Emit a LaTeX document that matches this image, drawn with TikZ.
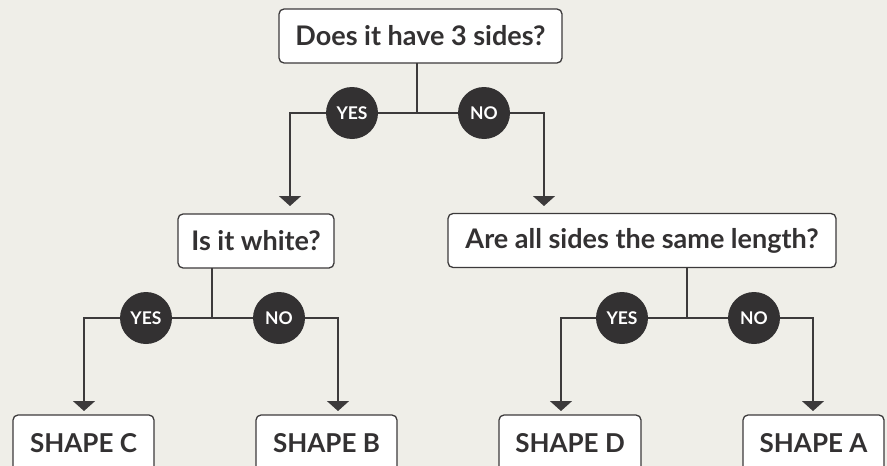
\documentclass[tikz,border=0pt]{standalone}
\usepackage{fontspec}
\setmainfont{Lato}
\usetikzlibrary{arrows.meta}
\definecolor{bg}{HTML}{EFEEE8}
\definecolor{ink}{HTML}{333132}
\definecolor{edge}{HTML}{3C3A3B}
\tikzset{
  qbox/.style={draw=edge, line width=1.3pt, fill=white, rounded corners=5pt,
    minimum height=54pt, inner sep=0pt, font=\fontsize{27}{30}\selectfont\bfseries, text=ink},
  leaf/.style={qbox, minimum height=56pt, font=\fontsize{26}{30}\selectfont\bfseries},
  ans/.style={circle, fill=ink, minimum size=52pt, inner sep=0pt,
    font=\fontsize{17.5}{20}\selectfont\bfseries, text=white},
  wire/.style={draw=edge, line width=1.5pt},
  arr/.style={wire, -{Triangle[width=22pt,length=10pt]}},
}
\begin{document}
\begin{tikzpicture}[x=1pt,y=-1pt]
\useasboundingbox (0,0) rectangle (887,466);
\fill[bg] (0,0) rectangle (887,466);
\clip (0,0) rectangle (887,466);
% question boxes
\node[qbox, minimum width=283pt] (q1) at (420.5,36) {Does it have 3 sides?};
\node[qbox, minimum width=156pt] (q2) at (256,241) {Is it white?};
\node[qbox, minimum width=388pt] (q3) at (642,240.5) {Are all sides the same length?};
% leaves
\node[leaf, minimum width=141pt] (lc) at (83.5,443) {SHAPE C};
\node[leaf, minimum width=141pt] (lb) at (326.5,443) {SHAPE B};
\node[leaf, minimum width=142pt] (ld) at (570,443) {SHAPE D};
\node[leaf, minimum width=141pt] (la) at (813.5,443) {SHAPE A};
% junctions and corners
\coordinate (j1) at (417,113);
\coordinate (j1t) at (417,63);
\coordinate (c1l) at (290,113);
\coordinate (c1r) at (544,113);
\coordinate (t1l) at (290,206);
\coordinate (t1r) at (544,206);
\coordinate (j2) at (212,318);
\coordinate (j2t) at (212,268);
\coordinate (c2l) at (84,318);
\coordinate (c2r) at (338,318);
\coordinate (t2l) at (84,411);
\coordinate (t2r) at (338,411);
\coordinate (j3) at (687,318);
\coordinate (j3t) at (687,268);
\coordinate (c3l) at (561,318);
\coordinate (c3r) at (813,318);
\coordinate (t3l) at (561,411);
\coordinate (t3r) at (813,411);
% wires
\draw[wire] (j1t) -- (j1);
\draw[arr] (j1) -- (c1l) -- (t1l);
\draw[arr] (j1) -- (c1r) -- (t1r);
\draw[wire] (j2t) -- (j2);
\draw[arr] (j2) -- (c2l) -- (t2l);
\draw[arr] (j2) -- (c2r) -- (t2r);
\draw[wire] (j3t) -- (j3);
\draw[arr] (j3) -- (c3l) -- (t3l);
\draw[arr] (j3) -- (c3r) -- (t3r);
% answer circles
\node[ans] (y1) at (352,113) {YES};
\node[ans] (n1) at (484,113) {NO};
\node[ans] (y2) at (146,318) {YES};
\node[ans] (n2) at (279,318) {NO};
\node[ans] (y3) at (622,318) {YES};
\node[ans] (n3) at (754,318) {NO};
\end{tikzpicture}
\end{document}
